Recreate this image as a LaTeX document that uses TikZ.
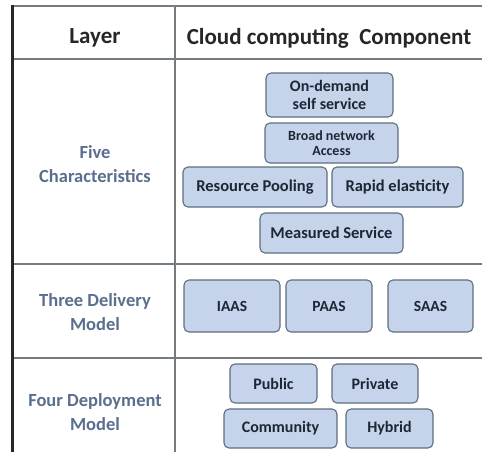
\documentclass[tikz,border=0pt]{standalone}
\usepackage{fontspec}
\setmainfont{Carlito}
\begin{document}
\begin{tikzpicture}[x=1pt,y=-1pt,
  comp/.style={draw=boxedge,fill=boxfill,rounded corners=5pt,line width=1.1pt,
    align=center,inner sep=0pt},
  layer/.style={font=\fontsize{18.5}{24}\selectfont\bfseries\color{layertext},align=center},
  head/.style={font=\fontsize{23}{26}\selectfont\bfseries\color{black!85}},
  grid/.style={draw=gridline,line width=1.3pt},
  big/.style={font=\fontsize{16.5}{18}\selectfont\bfseries\color{boxtext}},
  mid/.style={font=\fontsize{15.5}{17}\selectfont\bfseries\color{boxtext}},
  dep/.style={font=\fontsize{16}{18}\selectfont\bfseries\color{boxtext}}]
\definecolor{boxfill}{HTML}{C5D4EA}
\definecolor{boxedge}{HTML}{5E6E80}
\definecolor{boxtext}{HTML}{1C2636}
\definecolor{layertext}{HTML}{5A6E8E}
\definecolor{gridline}{HTML}{767B82}
\useasboundingbox (0,0) rectangle (482,452);
% grid
\draw[grid] (12,6) -- (482,6);
\draw[grid] (12,59) -- (482,59);
\draw[grid] (12,264) -- (482,264);
\draw[grid] (12,358) -- (482,358);
\draw[grid] (175,6) -- (175,452);
\draw[line width=3pt,draw=black!85] (12,5) -- (12,452);
% header
\node[head] (hl) at (95,38) {Layer};
\node[head] (hc) at (329,38) {Cloud computing\ \ Component};
% layer labels
\node[layer] (l1) at (95,164) {Five\\Characteristics};
\node[layer] (l2) at (95,312) {Three Delivery\\Model};
\node[layer] (l3) at (95,412) {Four Deployment\\Model};
% five characteristics
\node[comp,minimum width=127pt,minimum height=44pt,font=\fontsize{16}{17.5}\selectfont\bfseries\color{boxtext}] (od) at (329.5,95) {On-demand\\self service};
\node[comp,minimum width=133pt,minimum height=40pt,font=\fontsize{14}{15.5}\selectfont\bfseries\color{boxtext}] (bn) at (331.5,143) {Broad network\\Access};
\node[comp,big,minimum width=144pt,minimum height=40pt] (rp) at (255,187) {Resource Pooling};
\node[comp,big,minimum width=131pt,minimum height=40pt] (re) at (397.5,187) {Rapid elasticity};
\node[comp,big,minimum width=143pt,minimum height=40pt] (ms) at (331.5,233) {Measured Service};
% delivery
\node[comp,mid,minimum width=96pt,minimum height=52pt] (iaas) at (232,306) {IAAS};
\node[comp,mid,minimum width=86pt,minimum height=52pt] (paas) at (329,306) {PAAS};
\node[comp,mid,minimum width=85pt,minimum height=52pt] (saas) at (430.5,306) {SAAS};
% deployment
\node[comp,dep,minimum width=87pt,minimum height=39pt] (pub) at (273.5,383.5) {Public};
\node[comp,dep,minimum width=86pt,minimum height=39pt] (pri) at (375,383.5) {Private};
\node[comp,dep,minimum width=113pt,minimum height=39pt] (com) at (280.5,428.5) {Community};
\node[comp,dep,minimum width=87pt,minimum height=39pt] (hyb) at (389.5,428.5) {Hybrid};
\end{tikzpicture}
\end{document}
